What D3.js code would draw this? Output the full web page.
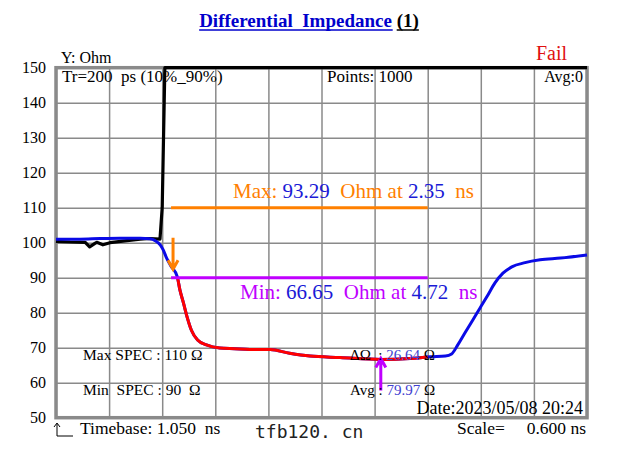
<!DOCTYPE html>
<html>
<head>
<meta charset="utf-8">
<script src="https://cdn.jsdelivr.net/npm/d3@7"></script>
<style>
  body { margin: 0; background: #fff; }
  svg text { font-family: "Liberation Serif", "Times New Roman", serif; }
</style>
</head>
<body>
<div id="chart"></div>
<script>
// ---- data (time in ns, impedance in Ohm) ----
let blue_t = [1.05, 1.32, 1.55, 1.77, 2.00, 2.11, 2.17, 2.23, 2.26, 2.30, 2.35, 2.42, 2.45, 2.49, 2.53, 2.58, 2.65, 2.75,
    2.90, 3.07, 3.24, 3.47, 3.69, 3.92, 4.26, 4.72, 5.05, 5.28, 5.45, 5.52, 5.59, 5.67, 5.76, 5.84, 5.92, 6.01, 6.10,
    6.20, 6.35, 6.52, 6.75, 7.05];
let blue_v = [101.0, 101.0, 101.2, 101.3, 101.3, 101.1, 100.6, 99.3, 98.0, 95.6, 93.29, 90.3, 86.5, 82.8, 78.9, 75.0, 72.2, 70.8,
    69.9, 69.7, 69.5, 69.5, 68.4, 67.6, 67.2, 66.65, 66.9, 67.4, 67.6, 68.2, 70.8, 74.2, 77.9, 81.3, 84.6, 88.5, 91.3,
    93.1, 94.3, 95.1, 95.6, 96.5];

let black_t = [1.05, 1.21, 1.38, 1.43, 1.49, 1.51, 1.58, 1.66, 1.83, 2.00, 2.11, 2.225, 2.25, 2.28, 7.05];
let black_v = [100.4, 100.2, 100.1, 98.8, 99.8, 100.1, 99.4, 100.0, 100.5, 101.0, 101.2, 101.0, 110, 150, 150];

let y_ticks = [50, 60, 70, 80, 90, 100, 110, 120, 130, 140, 150];
let time_base = 1.05, time_scale = 0.6, divisions = 10;
let spec_max = 110, spec_min = 90;
let win_start = 2.35, win_end = 5.25;
let max_val = 93.29, max_at = 2.35;
let min_val = 66.65, min_at = 4.72;
let delta_val = 26.64, avg_val = 79.97;

//----------------------------------------
// SVG setup
let width = 618, height = 452;
let svg = d3.select('#chart').append('svg')
    .attr('width', width)
    .attr('height', height);

let p_left = 56, p_right = 587, p_top = 67.7, p_bottom = 417.7;

let x = d3.scaleLinear()
    .domain([time_base, time_base + time_scale * divisions])
    .range([p_left, p_right]);
let y = d3.scaleLinear()
    .domain([50, 150])
    .range([p_bottom, p_top]);

//----------------------------------------
// Grid
let x_ticks = d3.range(divisions + 1).map(i => time_base + i * time_scale);

svg.append('g')
    .attr('transform', 'translate(0,' + p_bottom + ')')
    .call(d3.axisBottom(x).tickValues(x_ticks).tickSize(-(p_bottom - p_top)).tickFormat(''))
    .call(g => g.select('.domain').remove())
    .selectAll('line').attr('stroke', '#8a8a8a').attr('stroke-width', 1.5);

svg.append('g')
    .attr('transform', 'translate(' + p_left + ',0)')
    .call(d3.axisLeft(y).tickValues(y_ticks).tickSize(-(p_right - p_left)).tickPadding(10))
    .call(g => g.select('.domain').remove())
    .call(g => g.selectAll('line').attr('stroke', '#8a8a8a').attr('stroke-width', 1.5))
    .call(g => g.selectAll('text')
        .attr('fill', '#000')
        .style('font-size', '16px')
        .style('font-family', '"Liberation Serif", serif'));

// frame
svg.append('rect')
    .attr('x', p_left).attr('y', p_top)
    .attr('width', p_right - p_left).attr('height', p_bottom - p_top)
    .attr('fill', 'none')
    .attr('stroke', '#8a8a8a')
    .attr('stroke-width', 3.5);

//----------------------------------------
// Curves
let line_gen = d3.line()
    .x(d => x(d[0]))
    .y(d => y(d[1]))
    .curve(d3.curveMonotoneX);

let black_data = black_t.map((t, i) => [t, black_v[i]]);
let blue_data = blue_t.map((t, i) => [t, blue_v[i]]);

svg.append('path')
    .attr('d', d3.line().x(d => x(d[0])).y(d => y(d[1]))(black_data))
    .attr('fill', 'none')
    .attr('stroke', '#000')
    .attr('stroke-width', 3.2)
    .attr('stroke-linejoin', 'round');

svg.append('path')
    .attr('d', line_gen(blue_data))
    .attr('fill', 'none')
    .attr('stroke', '#0a0ae6')
    .attr('stroke-width', 3);

// red where the curve fails the spec inside the window
svg.append('clipPath').attr('id', 'fail-clip')
    .append('rect')
    .attr('x', x(win_start)).attr('y', y(spec_min))
    .attr('width', x(win_end) - x(win_start))
    .attr('height', p_bottom - y(spec_min));

svg.append('path')
    .attr('d', line_gen(blue_data))
    .attr('clip-path', 'url(#fail-clip)')
    .attr('fill', 'none')
    .attr('stroke', '#ff0000')
    .attr('stroke-width', 3);

//----------------------------------------
// Spec lines and markers
let orange = '#ff8000', magenta = '#c000ff', num_blue = '#1a1ad6';

svg.append('line')
    .attr('x1', x(win_start)).attr('x2', x(win_end))
    .attr('y1', y(spec_max)).attr('y2', y(spec_max))
    .attr('stroke', orange).attr('stroke-width', 3);

svg.append('line')
    .attr('x1', x(win_start)).attr('x2', x(win_end))
    .attr('y1', y(spec_min)).attr('y2', y(spec_min))
    .attr('stroke', magenta).attr('stroke-width', 3);

function arrow(xp, y1, y2, color) {
    let dir = y2 > y1 ? -1 : 1;
    svg.append('path')
        .attr('d', 'M' + xp + ',' + y1 + 'L' + xp + ',' + y2 +
            'M' + (xp - 5) + ',' + (y2 + dir * 9) + 'L' + xp + ',' + y2 + 'L' + (xp + 5) + ',' + (y2 + dir * 9))
        .attr('fill', 'none')
        .attr('stroke', color)
        .attr('stroke-width', 3);
}
arrow(x(max_at) + 2, y(101.4), y(max_val) + 3, orange);
arrow(x(min_at), y(57.8), y(min_val) - 1, magenta);

//----------------------------------------
// Texts
function label(xp, yp, size, parts, anchor) {
    let t = svg.append('text')
        .attr('x', xp).attr('y', yp)
        .attr('text-anchor', anchor || 'start')
        .style('font-size', size + 'px')
        .style('white-space', 'pre');
    parts.forEach(p => t.append('tspan').attr('fill', p[1]).text(p[0]));
    return t;
}

// title
let title = label(309, 27, 19, [['Differential  Impedance ', '#0000cc'], ['(1)', '#000']], 'middle')
    .style('font-weight', 'bold');
let tb = title.node().getBBox();
let part1 = title.select('tspan').node().getComputedTextLength();
svg.append('line').attr('x1', tb.x).attr('x2', tb.x + part1 - 4)
    .attr('y1', 30).attr('y2', 30).attr('stroke', '#0000cc').attr('stroke-width', 1.5);
svg.append('line').attr('x1', tb.x + part1).attr('x2', tb.x + tb.width)
    .attr('y1', 30).attr('y2', 30).attr('stroke', '#000').attr('stroke-width', 1.5);

label(61, 63, 16, [['Y: Ohm', '#000']]);
label(567, 60, 20, [['Fail', '#e01010']], 'end');

label(62, 82, 17, [['Tr=200  ps (10%_90%)', '#000']]);
label(327, 82, 17, [['Points: 1000', '#000']]);
label(583, 82, 16, [['Avg:0', '#000']], 'end');

label(233, 198, 21, [['Max: ', orange], [max_val.toFixed(2), num_blue], ['  Ohm at ', orange],
    [max_at.toFixed(2), num_blue], ['  ns', orange]]);
label(240, 299, 21, [['Min: ', magenta], [min_val.toFixed(2), num_blue], ['  Ohm at ', magenta],
    [min_at.toFixed(2), num_blue], ['  ns', magenta]]);

label(83, 360, 15.5, [['Max SPEC : ' + spec_max + ' \u03A9', '#000']]);
label(83, 395, 15.5, [['Min  SPEC : ' + spec_min + '  \u03A9', '#000']]);
label(350, 360, 15, [['\u0394\u03A9  : ', '#000'], [delta_val.toFixed(2), '#4040d0'], [' \u03A9', '#000']]);
label(350, 395, 15, [['Avg : ', '#000'], [avg_val.toFixed(2), '#4040d0'], [' \u03A9', '#000']]);
label(583, 414, 18, [['Date:2023/05/08 20:24', '#000']], 'end');

// bottom line
svg.append('path')
    .attr('d', 'M57,436L57,424M54,427L57,423L60,427M57,436L73,436')
    .attr('fill', 'none').attr('stroke', '#000').attr('stroke-width', 1);
label(80, 434, 17.5, [['Timebase: 1.050  ns', '#000']]);
label(586, 434, 17.5, [['Scale=     ' + time_scale.toFixed(3) + ' ns', '#000']], 'end');
label(255, 438, 18, [['tfb120. cn', '#222']]).style('font-family', '"DejaVu Sans Mono", monospace');
</script>
</body>
</html>
